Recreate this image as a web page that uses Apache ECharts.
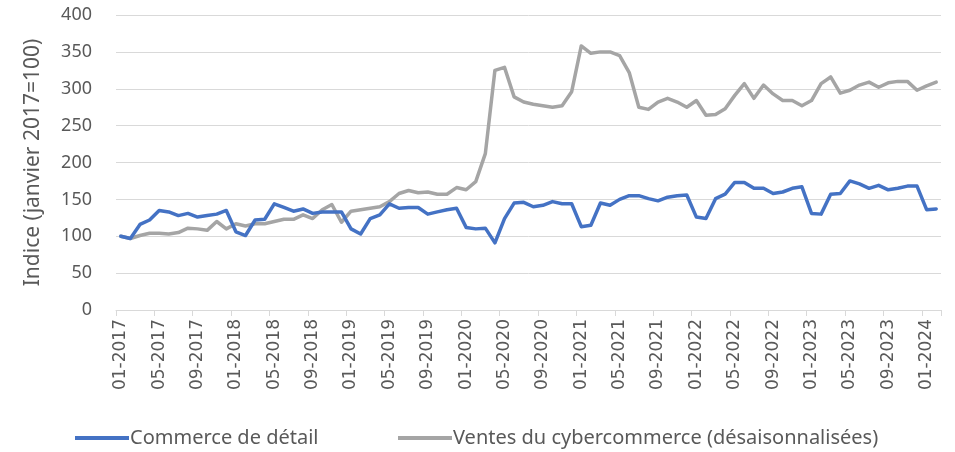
<!DOCTYPE html>
<html>
<head>
<meta charset="utf-8">
<script src="https://cdn.jsdelivr.net/npm/echarts@6/dist/echarts.min.js"></script>
<style>
html,body{margin:0;padding:0;background:#fff;}
#chart{width:955px;height:452px;}
</style>
</head>
<body>
<div id="chart"></div>
<script>
// Months 01-2017 .. 02-2024
const startYear = 2017, startMonth = 1, monthCount = 86;
const categories = [];
for (let i = 0; i < monthCount; i++) {
  const m = (startMonth - 1 + i) % 12 + 1;
  const y = startYear + Math.floor((startMonth - 1 + i) / 12);
  categories.push((m < 10 ? '0' + m : '' + m) + '-' + y);
}

const seriesNames = ['Commerce de détail', 'Ventes du cybercommerce (désaisonnalisées)'];

const retail = [
  100, 97, 116, 122, 135, 133, 128, 131, 126, 128, 130, 135,
  106, 101, 122, 123, 144, 139, 134, 137, 131, 133, 133, 133,
  110, 103, 124, 129, 144, 138, 139, 139, 130, 133, 136, 138,
  112, 110, 111, 91, 124, 145, 146, 140, 142, 147, 144, 144,
  113, 115, 145, 142, 150, 155, 155, 151, 148, 153, 155, 156,
  126, 124, 151, 157, 173, 173, 165, 165, 158, 160, 165, 167,
  131, 130, 157, 158, 175, 171, 165, 169, 163, 165, 168, 168,
  136, 137
];

const ecommerce = [
  100, 97, 101, 104, 104, 103, 105, 111, 110, 108, 120, 110,
  117, 114, 117, 117, 120, 123, 123, 129, 124, 136, 143, 119,
  134, 136, 138, 140, 147, 158, 162, 159, 160, 157, 157, 166,
  163, 174, 212, 325, 329, 289, 282, 279, 277, 275, 277, 296,
  358, 348, 350, 350, 345, 322, 275, 272, 282, 287, 282, 275,
  284, 264, 265, 273, 291, 307, 287, 305, 293, 284, 284, 277,
  284, 307, 316, 294, 298, 305, 309, 302, 308, 310, 310, 298,
  304, 309
];

const yMin = 0, yMax = 400, yStep = 50;
const yAxisName = 'Indice (janvier 2017=100)';

const FONT = 'Noto Sans';
const TXT = '#595959';

const chart = echarts.init(document.getElementById('chart'), null, {renderer: 'canvas'});
chart.setOption({
  animation: false,
  backgroundColor: '#ffffff',
  grid: {left: 116, right: 14, top: 15, bottom: 142, containLabel: false},
  legend: [
    {
      data: [seriesNames[0]], left: 70, top: 423,
      icon: 'rect', itemWidth: 54, itemHeight: 4, itemGap: 4,
      textStyle: {fontFamily: FONT, fontSize: 20, color: TXT, padding: [0,0,0,-4]}
    },
    {
      data: [seriesNames[1]], left: 393, top: 423,
      icon: 'rect', itemWidth: 54, itemHeight: 4, itemGap: 4,
      textStyle: {fontFamily: FONT, fontSize: 20, color: TXT, padding: [0,0,0,-4]}
    }
  ],
  xAxis: {
    type: 'category',
    data: categories,
    boundaryGap: true,
    axisLine: {show: true, lineStyle: {color: '#d9d9d9', width: 1}},
    axisTick: {show: true, interval: 3, length: 6, lineStyle: {color: '#d9d9d9'}},
    axisLabel: {
      interval: 3, rotate: 90, margin: 9,
      fontFamily: 'DejaVu Sans', fontSize: 17, color: TXT
    },
    splitLine: {show: false}
  },
  yAxis: {
    type: 'value',
    min: yMin, max: yMax, interval: yStep,
    name: yAxisName,
    nameLocation: 'middle',
    nameGap: 72,
    nameRotate: 90,
    nameTextStyle: {fontFamily: FONT, fontSize: 21, color: TXT},
    axisLine: {show: false},
    axisTick: {show: false},
    axisLabel: {margin: 24, fontFamily: FONT, fontSize: 18, color: TXT},
    splitLine: {lineStyle: {color: '#d9d9d9', width: 1}}
  },
  series: [
    {
      name: seriesNames[0], type: 'line', data: retail,
      symbol: 'none', smooth: false,
      lineStyle: {color: '#4472C4', width: 3.5, join: 'round', cap: 'round'},
      itemStyle: {color: '#4472C4'}, z: 3
    },
    {
      name: seriesNames[1], type: 'line', data: ecommerce,
      symbol: 'none', smooth: false,
      lineStyle: {color: '#A5A5A5', width: 3.5, join: 'round', cap: 'round'},
      itemStyle: {color: '#A5A5A5'}, z: 2
    }
  ]
});
</script>
</body>
</html>
